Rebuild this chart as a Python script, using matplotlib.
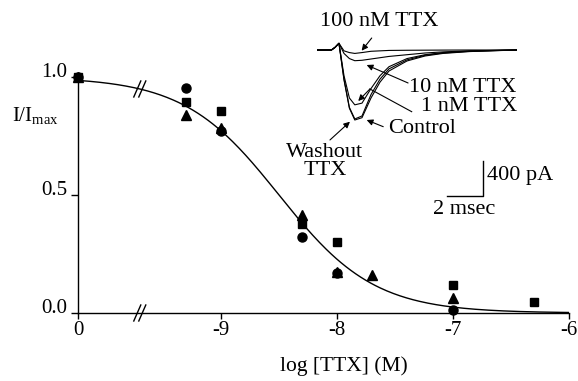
import numpy as np
import matplotlib.pyplot as plt

plt.rcParams['font.family'] = 'Liberation Serif'
plt.rcParams['mathtext.fontset'] = 'custom'
plt.rcParams['mathtext.rm'] = 'Liberation Serif'

W, H = 578, 381

# dose-response points, log[TTX] in M (0 = no toxin)
circle_x = [0, -9.3, -9.0, -8.3, -8.0, -7.0]
circle_y = [1.0, 0.955, 0.77, 0.32, 0.17, 0.014]
square_x = [0, -9.3, -9.0, -8.3, -8.0, -7.0, -6.3]
square_y = [1.0, 0.895, 0.855, 0.378, 0.302, 0.118, 0.045]
triangle_x = [0, -9.3, -9.0, -8.3, -8.0, -7.7, -7.0]
triangle_y = [1.0, 0.84, 0.785, 0.414, 0.175, 0.16, 0.063]

# fitted curve (Hill)
log_ic50 = -8.5
hill_n = 1.06

xtick_vals = [0, -9, -8, -7, -6]
xtick_labels = ['0', '-9', '-8', '-7', '-6']
ytick_vals = [0.0, 0.5, 1.0]
ytick_labels = ['0.0', '0.5', '1.0']

zero_pos = -10.23   # where "0" sits, left of the axis break
break_pos = -9.70

# inset current traces: time (ms), current (pA)
trace_t = [0, 0.8, 1.0, 1.22, 1.5, 1.8, 2.1, 2.5, 3.0, 3.5, 4.0, 5.0, 6.0, 7.0, 8.5, 11.1]
control = [0, 0, 30, 78, -350, -680, -817, -790, -560, -375, -245, -128, -70, -40, -18, 0]
washout = [0, 0, 30, 78, -340, -670, -805, -770, -520, -340, -220, -115, -62, -35, -15, 0]
ttx_1nm = [0, 0, 30, 78, -300, -560, -640, -620, -450, -300, -195, -100, -55, -30, -12, 0]
ttx_10nm = [0, 0, 30, 78, -40, -100, -125, -120, -105, -90, -75, -55, -35, -22, -10, 0]
ttx_100nm = [0, 0, 30, 78, -10, -30, -40, -30, -15, -10, -5, -3, -2, -1, 0, 0]


def to_pos(x):
    x = np.asarray(x, dtype=float)
    return np.where(x == 0, zero_pos, x)


def px(x, y):
    return x / W, 1 - y / H


fig = plt.figure(figsize=(W / 100, H / 100), dpi=100)
left_px, right_px = 78.3, 569.0
ax = fig.add_axes([left_px / W, 1 - 313 / H, (right_px - left_px) / W, (313 - 77) / H])
ax.set_xlim(zero_pos, -6)
ax.set_ylim(0, 1)
for s in ['top', 'right']:
    ax.spines[s].set_visible(False)
for s in ['left', 'bottom']:
    ax.spines[s].set_linewidth(1.0)

xs = np.linspace(zero_pos, -6, 300)
ax.plot(xs, 1 / (1 + 10 ** (hill_n * (xs - log_ic50))), color='k', lw=1.0)

ms = 6.5
ax.plot(to_pos(circle_x), circle_y, 'o', color='k', ms=ms, clip_on=False)
ax.plot(to_pos(triangle_x), triangle_y, '^', color='k', ms=ms + 0.5, clip_on=False)
ax.plot(to_pos(square_x), square_y, 's', color='k', ms=ms - 0.5, clip_on=False)

# break marks on axis and curve
dx = (-6 - zero_pos) / (right_px - left_px)
dy = 1 / 236.0
yb = 1 / (1 + 10 ** (hill_n * (break_pos - log_ic50)))
for yc in [0.0, yb]:
    for off in [-2.5, 2.5]:
        xc = break_pos + off * dx
        ax.plot([xc - 3.5 * dx, xc + 3.5 * dx], [yc - 8 * dy, yc + 8 * dy],
                color='k', lw=1.0, clip_on=False)

ax.set_xticks(to_pos(xtick_vals))
ax.set_xticklabels(xtick_labels)
ax.set_yticks(ytick_vals)
ax.set_yticklabels(ytick_labels)
ax.tick_params(axis='x', direction='out', length=4, width=1, pad=2, labelsize=15)
ax.tick_params(axis='y', direction='out', length=5, width=1, pad=3, labelsize=15)
for lab in ax.get_yticklabels():
    lab.set_va('baseline')

fig.text(*px(344, 366), 'log [TTX] (M)', ha='center', va='center', fontsize=15.5)
fig.text(*px(12, 121), r'I/I$_{\mathrm{max}}$', ha='left', va='baseline', fontsize=15)

# inset traces
ins = fig.add_axes([317 / W, 1 - 200 / H, 200 / W, 170 / H])
ins.set_xlim(0, 200 / 18)
ins.set_ylim(-150 * 11.67, 20 * 11.67)
ins.axis('off')
for tr in [control, washout, ttx_1nm, ttx_10nm, ttx_100nm]:
    ins.plot(trace_t, tr, color='k', lw=0.8)

fs = 16
# scale bar: 400 pA, 2 msec
ins.plot([7.24, 9.24, 9.24], [-1700, -1700, -1300], color='k', lw=1.0, clip_on=False)
ins.text(9.45, -1459, '400 pA', ha='left', va='center', fontsize=fs)
ins.text(8.2, -1867, '2 msec', ha='center', va='center', fontsize=fs)

arrow = dict(arrowstyle='-|>', lw=0.8, color='k', mutation_scale=9, shrinkA=0, shrinkB=0)
ins.annotate('', xy=(2.48, -8), xytext=(3.04, 140), arrowprops=arrow, annotation_clip=False)
ins.text(3.48, 330, '100 nM TTX', ha='center', va='center', fontsize=fs)

ins.annotate('', xy=(2.76, -175), xytext=(5.06, -385), arrowprops=arrow, annotation_clip=False)
ins.text(5.11, -435, '10 nM TTX', ha='left', va='center', fontsize=fs)

ins.plot([5.26, 2.94], [-720, -455], color='k', lw=0.8, clip_on=False)
ins.annotate('', xy=(2.29, -595), xytext=(2.94, -455), arrowprops=arrow, annotation_clip=False)
ins.text(5.76, -661, '1 nM TTX', ha='left', va='center', fontsize=fs)

ins.annotate('', xy=(2.76, -817), xytext=(3.68, -895), arrowprops=arrow, annotation_clip=False)
ins.text(3.96, -914, 'Control', ha='left', va='center', fontsize=fs)

ins.annotate('', xy=(1.83, -837), xytext=(0.72, -1050), arrowprops=arrow, annotation_clip=False)
ins.text(0.44, -1303, 'Washout\nTTX', ha='center', va='center', fontsize=fs, linespacing=0.9)

fig.savefig('out.png', dpi=100)
